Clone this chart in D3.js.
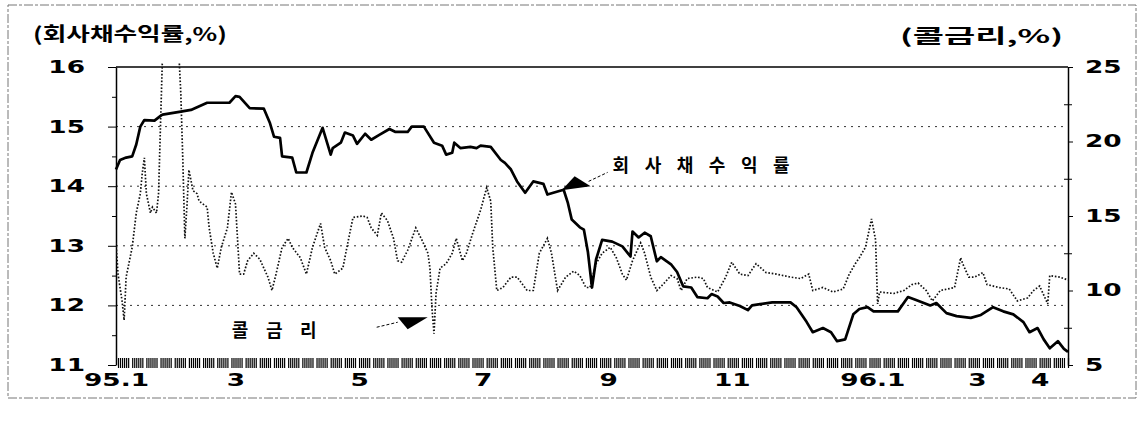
<!DOCTYPE html>
<html>
<head>
<meta charset="utf-8">
<script src="https://cdn.jsdelivr.net/npm/d3@7"></script>
<style>
  html, body { margin: 0; padding: 0; background: #fff; }
  #chart { width: 1141px; height: 428px; }
</style>
</head>
<body>
<div id="chart"></div>
<script>
// Series are keyed by days counted from 1995-01-01
const startDate = new Date(1995, 0, 1);
const endDate = new Date(1996, 3, 15);

// 회사채수익률 (left axis, %)
const bondDays = [0, 2, 5, 8, 10, 12, 14, 19, 22, 23, 32, 37, 45, 56, 59, 61, 66, 73, 76, 78,
    81, 82, 87, 89, 94, 97, 99, 102, 106, 107, 111, 113, 117, 119, 123, 126, 130, 135, 138, 144,
    146, 152, 157, 161, 163, 166, 167, 170, 175, 178, 180, 185, 190, 192, 195, 198, 202, 206, 211, 213,
    218, 221, 223, 225, 229, 231, 233, 235, 237, 240, 245, 250, 254, 255, 258, 261, 264, 267, 269, 274,
    277, 280, 284, 287, 292, 294, 297, 300, 303, 308, 312, 314, 318, 324, 333, 336, 341, 344, 349, 353,
    356, 360, 364, 367, 371, 374, 386, 391, 395, 402, 405, 410, 415, 422, 427, 433, 438, 443, 448, 451,
    455, 458, 461, 465, 468, 470];
const bondYield = [14.28, 14.44, 14.48, 14.5, 14.7, 15.0, 15.11, 15.1, 15.18, 15.2, 15.25, 15.28, 15.4, 15.4, 15.51, 15.5, 15.31, 15.3, 15.06, 14.83,
    14.81, 14.5, 14.48, 14.23, 14.23, 14.56, 14.73, 14.98, 14.53, 14.64, 14.73, 14.9, 14.85, 14.71, 14.88, 14.78, 14.86, 14.96, 14.91, 14.91,
    15.0, 15.0, 14.73, 14.68, 14.53, 14.56, 14.73, 14.64, 14.66, 14.64, 14.68, 14.66, 14.44, 14.39, 14.28, 14.08, 13.89, 14.08, 14.04, 13.86,
    13.91, 13.94, 13.73, 13.44, 13.31, 13.27, 12.89, 12.3, 12.77, 13.1, 13.07, 12.99, 12.82, 13.24, 13.14, 13.22, 13.16, 12.74, 12.81, 12.69,
    12.56, 12.32, 12.3, 12.14, 12.12, 12.19, 12.15, 12.04, 12.05, 11.99, 11.92, 12.0, 12.02, 12.05, 12.05, 11.97, 11.72, 11.55, 11.62, 11.55,
    11.4, 11.43, 11.85, 11.94, 11.97, 11.9, 11.9, 12.14, 12.09, 12.0, 12.04, 11.87, 11.82, 11.79, 11.84, 11.97, 11.9, 11.85, 11.72, 11.55,
    11.62, 11.43, 11.28, 11.4, 11.27, 11.22];

// 콜금리 (right axis, %)
const callDays = [0, 1, 3, 4, 5, 8, 10, 12, 13, 14, 15, 17, 18, 20, 21, 23, 27, 31, 32, 33,
    34, 35, 36, 38, 40, 41, 45, 46, 48, 50, 52, 55, 57, 59, 61, 63, 65, 68, 71, 75,
    77, 79, 82, 85, 87, 91, 94, 97, 101, 103, 106, 108, 112, 114, 117, 122, 124, 126, 129, 131,
    134, 137, 139, 141, 144, 148, 151, 154, 155, 156, 157, 158, 160, 163, 166, 168, 171, 173, 176, 180,
    183, 185, 186, 188, 191, 195, 198, 203, 206, 209, 213, 215, 218, 222, 226, 229, 232, 234, 237, 240,
    244, 247, 250, 252, 255, 259, 261, 264, 267, 270, 274, 277, 279, 282, 287, 290, 292, 297, 301, 304,
    308, 312, 316, 321, 326, 333, 338, 342, 344, 349, 354, 359, 362, 365, 367, 370, 373, 375, 376, 377,
    384, 389, 393, 396, 400, 403, 407, 414, 417, 418, 421, 424, 428, 430, 436, 441, 445, 450, 453, 456,
    460, 461, 466, 470];
const callRate = [13.2, 11.1, 9.3, 8.0, 10.9, 12.9, 15.2, 16.5, 17.9, 18.9, 16.5, 15.2, 15.6, 15.2, 16.5, 26, 26, 26, 23.2, 18.7,
    13.5, 15.6, 18.1, 16.7, 16.5, 16.0, 15.6, 14.2, 12.5, 11.5, 12.9, 14.2, 16.6, 15.8, 11.1, 11.1, 12.0, 12.5, 12.1, 10.9,
    10.0, 11.1, 12.9, 13.5, 12.9, 12.2, 11.1, 12.9, 14.5, 12.9, 12.0, 11.1, 11.5, 12.9, 14.9, 15.0, 14.9, 14.2, 13.7, 15.2,
    14.7, 13.5, 12.0, 11.9, 12.7, 14.2, 13.4, 12.5, 11.5, 8.8, 7.1, 9.8, 11.5, 11.8, 12.5, 13.5, 12.0, 12.5, 13.8, 15.4,
    16.9, 16.0, 12.9, 10.0, 10.2, 10.9, 10.9, 10.0, 10.0, 12.5, 13.5, 12.5, 10.0, 10.9, 11.3, 11.0, 10.2, 10.2, 11.8, 12.5,
    12.9, 12.2, 11.1, 10.7, 12.0, 13.2, 12.5, 10.9, 10.0, 10.4, 11.0, 10.8, 10.0, 10.8, 10.9, 10.8, 10.2, 9.9, 10.9, 11.9,
    11.1, 11.0, 11.8, 11.2, 11.1, 10.9, 10.8, 11.1, 10.0, 10.2, 9.9, 10.1, 11.1, 11.8, 12.2, 12.9, 14.8, 13.4, 9.1, 9.9,
    9.8, 10.0, 10.4, 10.5, 10.0, 9.3, 10.0, 10.2, 12.2, 11.8, 10.9, 10.9, 11.2, 10.4, 10.2, 10.1, 9.3, 9.5, 10.0, 10.3,
    9.1, 11.0, 10.9, 10.7];

// Axis ticks and labels
const monthTicks = ["1995-01-01", "1995-03-01", "1995-05-01", "1995-07-01", "1995-09-01",
    "1995-11-01", "1996-01-01", "1996-03-01", "1996-04-01"];
const monthLabels = ["95.1", "3", "5", "7", "9", "11", "96.1", "3", "4"];
const leftTicks = [11, 12, 13, 14, 15, 16];
const leftMinorTicks = [11.5, 12.5, 13.5, 14.5, 15.5];
const rightTicks = [5, 10, 15, 20, 25];
const rightMinorTicks = [7.5, 12.5, 17.5, 22.5];
const gridValues = [12, 13, 14, 15];

const leftTitle = "(회사채수익률,%)";
const rightTitle = "(콜금리,%)";
const bondLabel = "회사채수익률";
const callLabel = "콜금리";
// annotation anchors: [day, value]
const bondNote = [220, 13.93];
const callNote = [144, 7.4];

const numFont = "'DejaVu Sans', sans-serif";
const korFont = "'Noto Sans CJK KR', sans-serif";

// widen glyphs like the scanned print
function stretch(sel, k) {
    sel.each(function () {
        const len = this.getComputedTextLength();
        d3.select(this).attr("textLength", len * k).attr("lengthAdjust", "spacingAndGlyphs");
    });
}

class DualAxisChart {
    constructor(divId) {
        this.divId = divId;
        this.containerWidth = 1141;
        this.containerHeight = 428;

        this.margin = { top: 67, right: 73, bottom: 63, left: 116 };
        this.width = this.containerWidth - this.margin.left - this.margin.right;
        this.height = this.containerHeight - this.margin.top - this.margin.bottom;

        this.initVis();
    }

    initVis() {
        this.root = d3.select(this.divId)
            .append("svg")
            .attr("width", this.containerWidth)
            .attr("height", this.containerHeight)
            .style("background", "#fff");

        // faint outer frame of the scanned figure
        this.root.append("rect")
            .attr("x", 8).attr("y", 5)
            .attr("width", 1128).attr("height", 393)
            .attr("fill", "none")
            .attr("stroke", "#777")
            .attr("stroke-width", 1)
            .attr("stroke-dasharray", "9,2,3,2");

        this.svg = this.root.append("g")
            .attr("transform", `translate(${this.margin.left},${this.margin.top})`);

        this.bondData = bondDays.map((d, i) => ({ date: d3.timeDay.offset(startDate, d), value: bondYield[i] }));
        this.callData = callDays.map((d, i) => ({ date: d3.timeDay.offset(startDate, d), value: callRate[i] }));

        this.initScales();
        this.initAxes();
        this.updateVis();
        this.addLabels();
    }

    initScales() {
        this.xScale = d3.scaleTime()
            .domain([startDate, endDate])
            .range([0, this.width]);

        this.yLeft = d3.scaleLinear()
            .domain([11, 16])
            .range([this.height, 0]);

        this.yRight = d3.scaleLinear()
            .domain([5, 25])
            .range([this.height, 0]);
    }

    initAxes() {
        // Grid lines
        this.svg.append("g")
            .selectAll("line")
            .data(gridValues)
            .enter()
            .append("line")
            .attr("x1", 0)
            .attr("x2", this.width)
            .attr("y1", d => this.yLeft(d))
            .attr("y2", d => this.yLeft(d))
            .attr("stroke", "#333")
            .attr("stroke-width", 1)
            .attr("stroke-dasharray", "2,5");

        // Top border
        this.svg.append("line")
            .attr("x1", 0).attr("x2", this.width)
            .attr("y1", 0).attr("y2", 0)
            .attr("stroke", "#000")
            .attr("stroke-width", 1.3);

        // Trading-day ticks along the bottom (Sundays skipped)
        const tradingDays = d3.timeDay.filter(d => d.getDay() !== 0);
        this.svg.append("g")
            .attr("transform", `translate(0,${this.height - 7})`)
            .call(d3.axisBottom(this.xScale).ticks(tradingDays).tickSize(10).tickFormat(""))
            .call(g => g.select(".domain").remove())
            .selectAll("line")
            .attr("stroke", "#000")
            .attr("stroke-width", 1.2);

        // Month labels
        const monthDates = monthTicks.map(d => d3.timeParse("%Y-%m-%d")(d));
        const xLab = this.svg.append("g")
            .attr("transform", `translate(0,${this.height})`)
            .call(d3.axisBottom(this.xScale)
                .tickValues(monthDates)
                .tickSize(0)
                .tickPadding(9)
                .tickFormat((d, i) => monthLabels[i]))
            .call(g => g.select(".domain").remove());
        xLab.selectAll("text")
            .style("font-family", numFont)
            .style("font-weight", "bold")
            .style("font-size", "17px")
            .attr("fill", "#000")
            .attr("dx", (d, i) => monthLabels[i] === "96.1" ? 17 : 0)
            .call(stretch, 1.55);

        // Left axis
        const left = this.svg.append("g")
            .call(d3.axisLeft(this.yLeft)
                .tickValues(leftTicks)
                .tickFormat(d3.format("d"))
                .tickSize(8)
                .tickSizeOuter(0)
                .tickPadding(23));
        left.select(".domain").attr("stroke-width", 1.5);
        left.selectAll("text")
            .style("font-family", numFont)
            .style("font-weight", "bold")
            .style("font-size", "17px")
            .attr("fill", "#000")
            .call(stretch, 1.55);
        this.svg.append("g")
            .call(d3.axisLeft(this.yLeft).tickValues(leftMinorTicks).tickSize(4).tickFormat(""))
            .call(g => g.select(".domain").remove());

        // Right axis
        const right = this.svg.append("g")
            .attr("transform", `translate(${this.width},0)`)
            .call(d3.axisRight(this.yRight)
                .tickValues(rightTicks)
                .tickFormat(d3.format("d"))
                .tickSize(5)
                .tickSizeOuter(0)
                .tickPadding(12));
        right.select(".domain").attr("stroke-width", 1.5);
        right.selectAll("text")
            .style("font-family", numFont)
            .style("font-weight", "bold")
            .style("font-size", "17px")
            .attr("fill", "#000")
            .call(stretch, 1.55);
        this.svg.append("g")
            .attr("transform", `translate(${this.width},0)`)
            .call(d3.axisRight(this.yRight).tickValues(rightMinorTicks).tickSize(4).tickFormat(""))
            .call(g => g.select(".domain").remove())
            .selectAll("line")
            .attr("x1", -4);
    }

    updateVis() {
        this.svg.append("clipPath")
            .attr("id", "plot-clip")
            .append("rect")
            .attr("x", 0).attr("y", -5)
            .attr("width", this.width).attr("height", this.height + 5);

        // 콜금리, dotted
        const callLine = d3.line()
            .x(d => this.xScale(d.date))
            .y(d => this.yRight(d.value));
        this.svg.append("path")
            .datum(this.callData)
            .attr("clip-path", "url(#plot-clip)")
            .attr("fill", "none")
            .attr("stroke", "#111")
            .attr("stroke-width", 1.7)
            .attr("stroke-dasharray", "1.6,1.8")
            .attr("d", callLine);

        // 회사채수익률, solid
        const bondLine = d3.line()
            .x(d => this.xScale(d.date))
            .y(d => this.yLeft(d.value));
        this.svg.append("path")
            .datum(this.bondData)
            .attr("fill", "none")
            .attr("stroke", "#000")
            .attr("stroke-width", 2.7)
            .attr("stroke-linejoin", "round")
            .attr("d", bondLine);
    }

    addLabels() {
        // Axis titles
        this.root.append("text")
            .attr("x", 33).attr("y", 41)
            .style("font-family", korFont)
            .style("font-weight", "bold")
            .style("font-size", "19px")
            .attr("textLength", 194)
            .attr("lengthAdjust", "spacingAndGlyphs")
            .text(leftTitle);
        this.root.append("text")
            .attr("x", 900).attr("y", 43)
            .style("font-family", korFont)
            .style("font-weight", "bold")
            .style("font-size", "19px")
            .attr("textLength", 163)
            .attr("lengthAdjust", "spacingAndGlyphs")
            .text(rightTitle);

        const dayDate = d => d3.timeDay.offset(startDate, d);

        // 회사채수익률 pointer
        const bx = this.xScale(dayDate(bondNote[0]));
        const by = this.yLeft(bondNote[1]);
        const bNote = this.svg.append("g").attr("transform", `translate(${bx},${by})`);
        bNote.append("path")
            .attr("d", "M0,0 L13,-14 L29,-4 Z")
            .attr("fill", "#000");
        bNote.append("line")
            .attr("x1", 27).attr("y1", -9).attr("x2", 46).attr("y2", -18)
            .attr("stroke", "#000").attr("stroke-width", 1).attr("stroke-dasharray", "3,2");
        bNote.append("text")
            .attr("x", 51).attr("y", -18)
            .style("font-family", korFont)
            .style("font-weight", "bold")
            .style("font-size", "18px")
            .attr("textLength", 177)
            .attr("lengthAdjust", "spacing")
            .text(bondLabel);

        // 콜금리 pointer
        const cx = this.xScale(dayDate(callNote[0]));
        const cy = this.yRight(callNote[1]);
        const cNote = this.svg.append("g").attr("transform", `translate(${cx},${cy})`);
        cNote.append("path")
            .attr("d", "M-10,-12 L20,-12 L0,0 Z")
            .attr("fill", "#000");
        cNote.append("line")
            .attr("x1", -31).attr("y1", -2).attr("x2", -10).attr("y2", -7)
            .attr("stroke", "#000").attr("stroke-width", 1).attr("stroke-dasharray", "3,2");
        cNote.append("text")
            .attr("x", -176).attr("y", 8)
            .style("font-family", korFont)
            .style("font-weight", "bold")
            .style("font-size", "18px")
            .attr("textLength", 85)
            .attr("lengthAdjust", "spacing")
            .text(callLabel);
    }
}

new DualAxisChart("#chart");
</script>
</body>
</html>
